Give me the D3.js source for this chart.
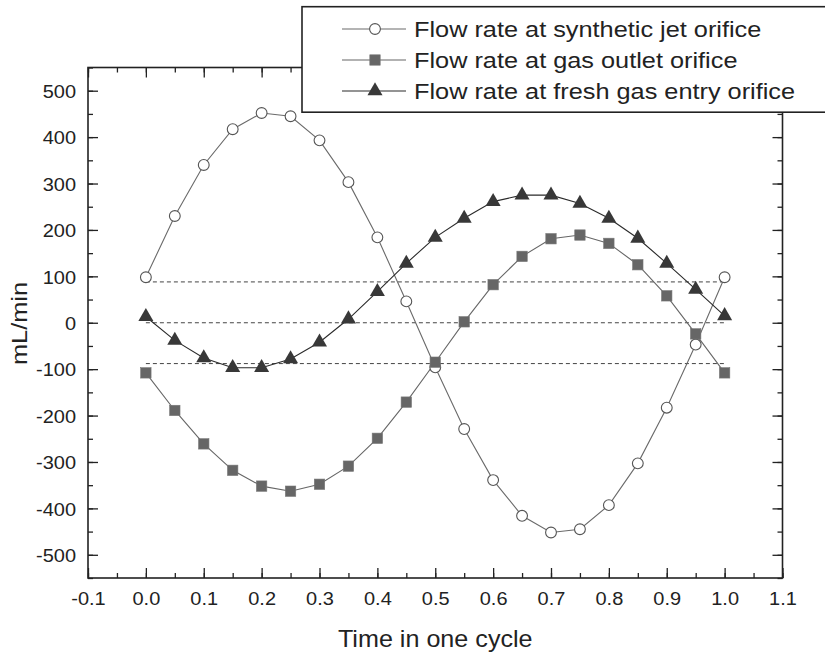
<!DOCTYPE html>
<html><head><meta charset="utf-8">
<script src="https://cdn.jsdelivr.net/npm/d3@7"></script>
<style>
body{margin:0;background:#fff;}
text{font-family:"Liberation Sans",Arial,sans-serif;fill:#222;}
</style></head>
<body>
<svg id="chart" width="825" height="656"></svg>
<script>
const times = [0.0,0.05,0.1,0.15,0.2,0.25,0.3,0.35,0.4,0.45,0.5,0.55,0.6,0.65,0.7,0.75,0.8,0.85,0.9,0.95,1.0];
const jetFlow = [98,230,340,417,452,445,393,303,184,46,-96,-229,-339,-416,-452,-445,-393,-303,-183,-47,98];
const outletFlow = [-108,-189,-261,-318,-352,-363,-348,-309,-249,-171,-85,2,82,143,181,189,171,125,58,-24,-108];
const freshFlow = [13,-38,-76,-97,-97,-78,-42,8,67,128,184,225,261,275,275,257,225,182,128,72,15];
const refLevels = [88,0,-88];
const seriesNames = ["Flow rate at synthetic jet orifice","Flow rate at gas outlet orifice","Flow rate at fresh gas entry orifice"];
const xTicks = [-0.1,0.0,0.1,0.2,0.3,0.4,0.5,0.6,0.7,0.8,0.9,1.0,1.1];
const yTicks = [-500,-400,-300,-200,-100,0,100,200,300,400,500];
const xTitle = "Time in one cycle";
const yTitle = "mL/min";

const svg = d3.select("#chart");
const L=88, R=782.5, T=67.5, B=578;
const x = d3.scaleLinear().domain([-0.1,1.1]).range([L,R]);
const y = d3.scaleLinear().domain([-550,550]).range([B,T]);

const minorX = d3.range(-0.1,1.1001,0.05);
const minorY = d3.range(-550,550.1,50);
const hy = s => s.replace("\u2212","-");
const fmtX = v => hy(d3.format(".1f")(v));
const fmtY = v => hy(d3.format("d")(v));

const g = svg.append("g");
const axStyle = sel => sel.call(s=>s.select(".domain").remove())
  .call(s=>s.selectAll("line").attr("stroke","#222").attr("stroke-width",1.3));

// bottom
g.append("g").attr("transform",`translate(0,${B})`)
  .call(d3.axisBottom(x).tickValues(minorX).tickSize(-5).tickFormat(""))
  .call(axStyle);
g.append("g").attr("transform",`translate(0,${B})`)
  .call(d3.axisBottom(x).tickValues(xTicks).tickSize(-10).tickFormat(fmtX))
  .call(axStyle)
  .call(s=>s.selectAll("text").attr("font-size",18.5).attr("fill","#222")
     .attr("y",605-B).attr("dy",0).attr("transform","scale(1.08,1)"));
// top
g.append("g").attr("transform",`translate(0,${T})`)
  .call(d3.axisTop(x).tickValues(minorX).tickSize(-5).tickFormat(""))
  .call(axStyle);
g.append("g").attr("transform",`translate(0,${T})`)
  .call(d3.axisTop(x).tickValues(xTicks).tickSize(-10).tickFormat(""))
  .call(axStyle);
// left
g.append("g").attr("transform",`translate(${L},0)`)
  .call(d3.axisLeft(y).tickValues(minorY).tickSize(-5).tickFormat(""))
  .call(axStyle);
g.append("g").attr("transform",`translate(${L},0)`)
  .call(d3.axisLeft(y).tickValues(yTicks).tickSize(-10).tickFormat(fmtY))
  .call(axStyle)
  .call(s=>s.selectAll("text").attr("font-size",18.5).attr("fill","#222")
     .attr("x",0).attr("dy","0.36em").attr("text-anchor","end")
     .attr("transform",`translate(${76-L},0) scale(1.08,1)`));
// right
g.append("g").attr("transform",`translate(${R},0)`)
  .call(d3.axisRight(y).tickValues(minorY).tickSize(-5).tickFormat(""))
  .call(axStyle);
g.append("g").attr("transform",`translate(${R},0)`)
  .call(d3.axisRight(y).tickValues(yTicks).tickSize(-10).tickFormat(""))
  .call(axStyle);

g.append("rect").attr("x",L).attr("y",T).attr("width",R-L).attr("height",B-T)
  .attr("fill","none").attr("stroke","#222").attr("stroke-width",1.6);

// reference dashed lines
g.selectAll(".ref").data(refLevels).join("line")
  .attr("x1",x(0)).attr("x2",x(1)).attr("y1",d=>y(d)).attr("y2",d=>y(d))
  .attr("stroke","#444").attr("stroke-width",1).attr("stroke-dasharray","4,3");

// series
const series = [
  {name:seriesNames[0], vals:jetFlow, line:"#6a6a6a", kind:"circle"},
  {name:seriesNames[1], vals:outletFlow, line:"#666", kind:"square"},
  {name:seriesNames[2], vals:freshFlow, line:"#2a2a2a", kind:"triangle"}
];
const lineGen = d3.line().x((d,i)=>x(times[i])).y(d=>y(d));

function drawMarker(sel, kind){
  if(kind==="circle"){
    sel.append("circle").attr("r",5.4).attr("fill","#fff").attr("stroke","#555").attr("stroke-width",1.1);
  } else if(kind==="square"){
    sel.append("rect").attr("x",-5.2).attr("y",-5.2).attr("width",10.4).attr("height",10.4)
      .attr("fill","#666").attr("stroke","#777").attr("stroke-width",0.6);
  } else {
    sel.append("path").attr("d",d3.symbol(d3.symbolTriangle,98)()).attr("fill","#383838");
  }
}

series.forEach(s=>{
  g.append("path").datum(s.vals).attr("d",lineGen).attr("fill","none")
    .attr("stroke",s.line).attr("stroke-width",1.1);
});
[series[0],series[2],series[1]].forEach(s=>{
  g.selectAll(null).data(s.vals).join("g")
    .attr("transform",(d,i)=>`translate(${x(times[i])},${y(d)})`)
    .each(function(){drawMarker(d3.select(this),s.kind);});
});

// axis titles
svg.append("text").attr("transform",`translate(${(L+R)/2},647) scale(1.07,1)`).attr("text-anchor","middle")
  .attr("font-size",23.5).text(xTitle);
svg.append("text").attr("transform","translate(27,323.5) rotate(-90) scale(1.15,1)").attr("text-anchor","middle")
  .attr("font-size",22).text(yTitle);

// legend
const lg = svg.append("g");
lg.append("rect").attr("x",302).attr("y",6.7).attr("width",540).attr("height",105.5)
  .attr("fill","#fff").attr("stroke","#222").attr("stroke-width",1.6);
const rowY = [29,60,91];
series.forEach((s,i)=>{
  const r = lg.append("g").attr("transform",`translate(0,${rowY[i]})`);
  r.append("line").attr("x1",342).attr("x2",406).attr("y1",0).attr("y2",0)
    .attr("stroke",s.line).attr("stroke-width",1.1);
  const m = r.append("g").attr("transform","translate(375,0)");
  drawMarker(m,s.kind);
  r.append("text").attr("transform","translate(414,0) scale(1.12,1)").attr("dy","0.35em")
    .attr("font-size",22.6).text(s.name);
});
</script>
</body></html>
